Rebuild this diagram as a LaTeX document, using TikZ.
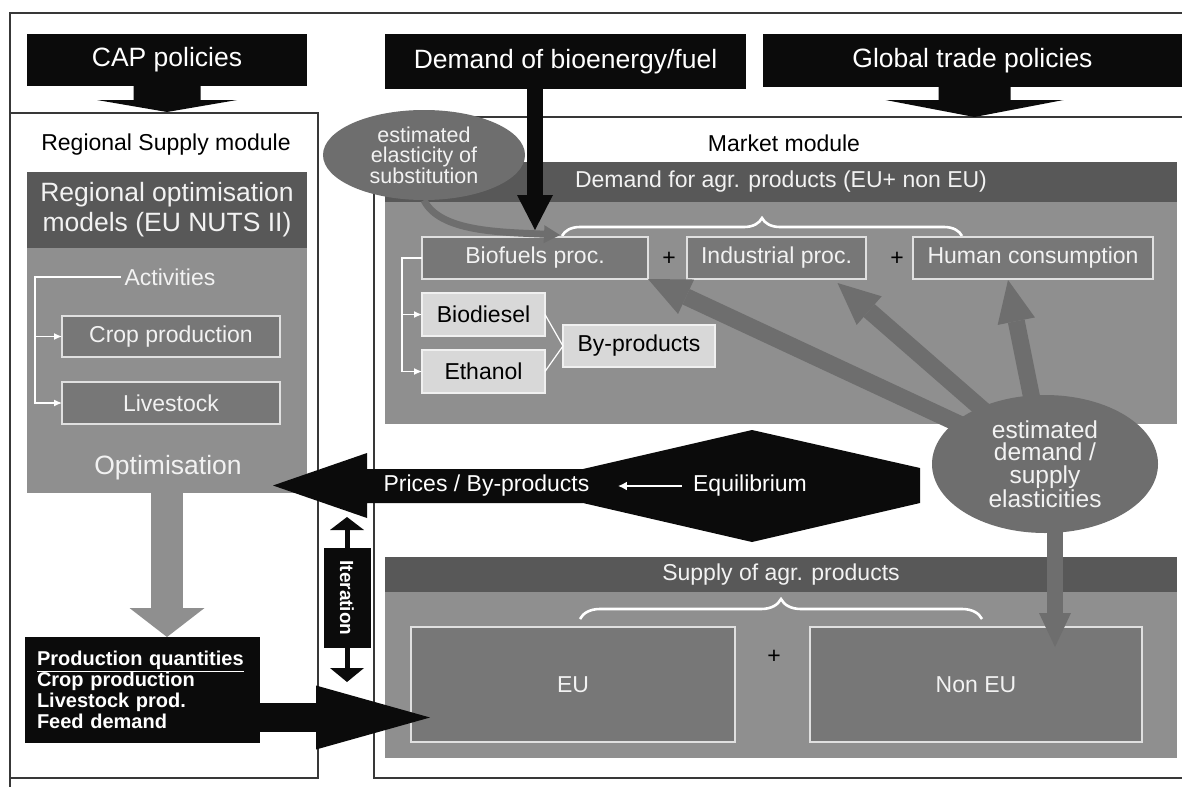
\documentclass[tikz,border=0pt]{standalone}
\usepackage{fontspec}
\setmainfont{Liberation Sans}
\usetikzlibrary{arrows.meta,shapes.geometric,decorations.pathreplacing,calc}
\definecolor{blk}{HTML}{0B0B0B}
\definecolor{hdr}{HTML}{585858}
\definecolor{bdy}{HTML}{8F8F8F}
\definecolor{inb}{HTML}{777777}
\definecolor{ell}{HTML}{6E6E6E}
\definecolor{lgt}{HTML}{D8D8D8}
\definecolor{frm}{HTML}{383838}
\definecolor{wtx}{HTML}{F2F2F2}
\newcommand{\fbig}{\fontsize{26.5}{30}\selectfont}
\newcommand{\fmid}{\fontsize{23}{27}\selectfont}
\begin{document}
\begin{tikzpicture}[x=1pt,y=-1pt,
  box/.style={rectangle, inner sep=0pt, outer sep=0pt},
  blackbox/.style={box, fill=blk, text=white, font=\fbig},
  hdrbox/.style={box, fill=hdr, text=wtx, font=\fmid},
  bodybox/.style={box, fill=bdy},
  inbox/.style={box, fill=inb, draw=white!88!black, line width=1.3pt, text=wtx, font=\fmid},
  lightbox/.style={box, fill=lgt, draw=white!94!black, line width=1.3pt, text=black, font=\fmid},
  frame/.style={draw=frm, line width=1.4pt},
  wline/.style={draw=white, line width=1.2pt},
  warr/.style={wline, -{Latex[length=8pt,width=7pt]}},
  brc/.style={draw=white, line width=2.6pt, decorate, decoration={brace, amplitude=18pt}},
  garrow/.style={draw=ell, line width=17pt, -{Triangle[width=38pt,length=42pt,line width=0pt]}},
  ellnode/.style={ellipse, fill=ell, inner sep=0pt, text=wtx, align=center}
]
\useasboundingbox (0,0) rectangle (1182,787);
\fill[white] (0,0) rectangle (1182,787);
% frames
\draw[frame] (1182,13) -- (10,13) -- (10,787);
\node[box, frame, anchor=north west, minimum width=308pt, minimum height=665pt] (supmod) at (10,113) {};
\node[box, frame, anchor=north west, minimum width=840pt, minimum height=661pt] (mktmod) at (374,117) {};
% policy boxes
\node[blackbox, minimum width=280pt, minimum height=52pt] (cap) at (167,60) {CAP policies};
\node[blackbox, minimum width=361pt, minimum height=55pt] (dem) at (565.5,61.5) {Demand of bioenergy/fuel};
\node[blackbox, minimum width=419pt, minimum height=53pt] (glob) at (972.5,60.5) {Global trade policies};
\fill[blk] ($(cap.south)+(-33.5,-1)$) -- ($(cap.south)+(-33.5,14)$) -- ($(cap.south)+(-70,14)$) -- ($(cap.south)+(0,26)$) -- ($(cap.south)+(70,14)$) -- ($(cap.south)+(33.5,14)$) -- ($(cap.south)+(33.5,-1)$) -- cycle;
\coordinate (gb) at ($(glob.south)+(2,0)$);
\fill[blk] ($(gb)+(-36,-1)$) -- ($(gb)+(-36,13)$) -- ($(gb)+(-89,13)$) -- ($(gb)+(0,30)$) -- ($(gb)+(89,13)$) -- ($(gb)+(36,13)$) -- ($(gb)+(36,-1)$) -- cycle;
% regional supply module
\node[font=\fmid] (rsm) at (166,145) {Regional Supply module};
\node[hdrbox, font=\fbig, align=center, minimum width=280pt, minimum height=76pt] (roh) at (167,210) {Regional optimisation\\models (EU NUTS II)};
\node[bodybox, minimum width=280pt, minimum height=245pt] (rob) at (167,370.5) {};
\node[text=wtx, font=\fmid] (act) at (170,277) {Activities};
\node[inbox, minimum width=218pt, minimum height=41pt] (crop) at (171,336.5) {Crop production};
\node[inbox, minimum width=218pt, minimum height=42pt] (live) at (171,403) {Livestock};
\node[text=wtx, font=\fbig] (opt) at (168,468) {Optimisation};
\draw[warr] (act.west) -| ([xshift=-27pt]crop.west) |- (live.west);
\draw[warr] ([xshift=-27pt]crop.west) -- (crop.west);
\node[blackbox, font=\bfseries\fontsize{20}{21}\selectfont, align=left, text width=211pt, minimum width=235pt, minimum height=106pt] (pq) at (142.5,690) {\underline{Production quantities}\\Crop production\\Livestock prod.\\Feed demand};
\draw[draw=bdy, line width=32pt, -{Triangle[width=75pt,length=29pt,line width=0pt]}] (rob.south) -- (rob.south |- pq.north);
% iteration
\node[blackbox, font=\bfseries\fontsize{19}{19}\selectfont, rotate=-90, minimum width=100pt, minimum height=47pt] (iter) at (347,598) {Iteration};
\coordinate (itop) at (347,517);
\coordinate (ibot) at (347,682);
\draw[draw=blk, line width=5pt, -{Triangle[width=34pt,length=13pt,line width=0pt]}] (iter.west) -- (itop);
\draw[draw=blk, line width=5pt, -{Triangle[width=34pt,length=14pt,line width=0pt]}] (iter.east) -- (ibot);
% market module
\node[font=\fmid] (mm) at (784,143) {Market module};
\node[hdrbox, minimum width=792pt, minimum height=40pt] (dh) at (781,182) {Demand for agr. products (EU+ non EU)};
\node[bodybox, minimum width=792pt, minimum height=222pt] (db) at (781,313) {};
\draw[brc] (562,236) -- (962,236);
\node[inbox, minimum width=226pt, minimum height=42pt] (bfp) at (535,258) {Biofuels proc.};
\node[font=\fmid] (p1) at (669,259) {+};
\node[inbox, minimum width=179pt, minimum height=42pt] (ind) at (776.5,258) {Industrial proc.};
\node[font=\fmid] (p2) at (897,259) {+};
\node[inbox, minimum width=240pt, minimum height=42pt] (hum) at (1033,258) {Human consumption};
\node[lightbox, minimum width=123pt, minimum height=43pt] (biod) at (483.5,314.5) {Biodiesel};
\node[lightbox, minimum width=123pt, minimum height=43pt] (eth) at (483.5,371.5) {Ethanol};
\node[lightbox, minimum width=152pt, minimum height=42pt] (byp) at (639,346) {By-products};
\draw[wline] (biod.east) -- (byp.west);
\draw[wline] (eth.east) -- (byp.west);
\draw[warr] (bfp.west) -- ([xshift=-20pt]bfp.west) |- (eth.west);
\draw[warr] ([xshift=-20pt]bfp.west) |- (biod.west);
% supply
\node[hdrbox, minimum width=792pt, minimum height=35pt] (sh) at (781,574.5) {Supply of agr. products};
\node[bodybox, minimum width=792pt, minimum height=166pt] (sb) at (781,675) {};
\draw[brc, decoration={brace, amplitude=20pt}] (580,619) -- (982,619);
\node[inbox, minimum width=324pt, minimum height=115pt] (eu) at (573,684.5) {EU};
\node[font=\fmid] (p3) at (774,657) {+};
\node[inbox, minimum width=332pt, minimum height=115pt] (neu) at (976,684.5) {Non EU};
% prices / equilibrium
\fill[blk] (273,485.5) -- (367,453) -- (367,469) -- (583,469) -- (752,430) -- (920,468) -- (920,503) -- (752,542) -- (583,503) -- (367,503) -- (367,518) -- cycle;
\node[text=white, font=\fmid] (pr) at (486.5,486) {Prices / By-products};
\node[text=white, font=\fmid] (eq) at (750,486) {Equilibrium};
\draw[draw=white, line width=2pt, -{Latex[length=9pt,width=9pt]}] ([xshift=-8pt]eq.west) -- ([xshift=25pt]pr.east);
% production arrow
\coordinate (pqtip) at (430,717.5);
\draw[draw=blk, line width=29pt, -{Triangle[width=64pt,length=114pt,line width=0pt]}] (pq.east |- pqtip) -- (pqtip);
% elasticities
\node[ellnode, minimum width=226pt, minimum height=138pt, font=\fontsize{24.5}{22.5}\selectfont] (esd) at (1045,464) {estimated\\demand /\\supply\\elasticities};
\draw[garrow, shorten <=-8pt] (esd) -- (bfp.south east);
\draw[garrow, shorten <=-8pt] (esd) -- ([xshift=61pt,yshift=-4pt]ind.south);
\draw[garrow, shorten <=-8pt] (esd) -- ([xshift=-25pt,yshift=-1pt]hum.south);
\coordinate (s4) at ([yshift=12pt]esd.south);
\coordinate (t4) at ([xshift=79pt,yshift=-20pt]neu.north);
\draw[draw=ell, line width=16pt, -{Triangle[width=32pt,length=34pt,line width=0pt]}] (s4 -| t4) -- (t4);
\node[ellnode, minimum width=202pt, minimum height=90pt, font=\fontsize{21.5}{20}\selectfont] (esub) at (424,155) {estimated\\elasticity of\\substitution};
\draw[draw=ell, line width=7pt, -{Triangle[width=18pt,length=16pt,line width=0pt]}] (esub.south) .. controls (440,232) and (500,232) .. ([xshift=25pt,yshift=2pt]bfp.north);
\draw[draw=blk, line width=16pt, -{Triangle[width=36pt,length=35pt,line width=0pt]}] (dem.south -| bfp.north) -- ([yshift=7pt]bfp.north);
\end{tikzpicture}
\end{document}
